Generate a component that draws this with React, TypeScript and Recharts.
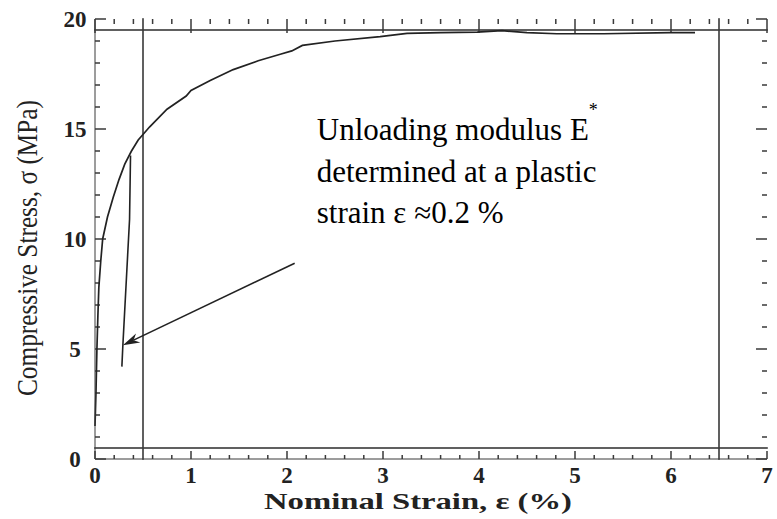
// Compressive stress-strain curve with unloading branch (ticks drawn via reference segments)
import React from 'react';
import { LineChart, Line, XAxis, YAxis, ReferenceLine, ReferenceDot } from 'recharts';

const curveStrainPct = [
  0.0, 0.01, 0.02, 0.03, 0.04, 0.06, 0.08, 0.13, 0.19, 0.25, 0.31, 0.38, 0.45,
  0.57, 0.75, 0.95, 1.0, 1.2, 1.44, 1.7, 1.93, 2.05, 2.16, 2.5, 2.97, 3.25,
  3.6, 3.98, 4.24, 4.5, 4.81, 5.3, 5.99, 6.25,
];
const curveStressMPa = [
  1.5, 3.0, 5.0, 6.5, 7.8, 9.0, 10.0, 11.0, 11.9, 12.7, 13.4, 14.0, 14.5,
  15.1, 15.9, 16.5, 16.75, 17.2, 17.7, 18.1, 18.4, 18.55, 18.8, 19.0, 19.2, 19.35,
  19.38, 19.4, 19.47, 19.38, 19.33, 19.33, 19.38, 19.38,
];

const unloadStrainPct = [0.37, 0.36, 0.29, 0.28];
const unloadStressMPa = [13.8, 10.9, 5.15, 4.2];

// arrow tail -> head
const arrowStrain = [2.08, 0.29];
const arrowStress = [8.9, 5.17];

const noteAnchor = { strain: 2.31, stress: 14.5 };
const noteLines = ['Unloading modulus E', 'determined at a plastic', 'strain ε ≈0.2 %'];

const xTickLabels = [0, 1, 2, 3, 4, 5, 6, 7];
const yTickLabels = [0, 5, 10, 15, 20];
const xMinor = Array.from({ length: 36 }, (_, i) => i / 5);
const yMinor = Array.from({ length: 21 }, (_, i) => i);

const curveData = curveStrainPct.map((x, i) => ({ x, y: curveStressMPa[i] }));
const unloadData = unloadStrainPct.map((x, i) => ({ x, y: unloadStressMPa[i] }));

const SERIF = 'Liberation Serif, Times New Roman, serif';
const FRAME = '#3a3a3a';
const INK = '#222222';

const isMajorX = (v: number) => Math.abs(v - Math.round(v)) < 1e-6;
const isMajorY = (v: number) => Math.round(v) % 5 === 0;

const renderXLabel = (p: any) => (
  <text key={`xl-${p.index}`} x={p.x} y={p.y + 24} textAnchor="middle" fontFamily={SERIF} fontWeight="bold" fontSize={23} fill={INK}>
    {p.payload.value}
  </text>
);

const renderYLabel = (p: any) => (
  <text key={`yl-${p.index}`} x={p.x - 20} y={p.y + 8} textAnchor="middle" fontFamily={SERIF} fontWeight="bold" fontSize={23} fill={INK}>
    {p.payload.value}
  </text>
);

// segment spans 0.5..19.5 MPa; stretch half a unit each way to reach the frame
const xTickShape = (major: boolean) => (p: any) => {
  const unit = Math.abs(p.y2 - p.y1) / 19;
  const bottom = Math.max(p.y1, p.y2) + unit * 0.5;
  const top = Math.min(p.y1, p.y2) - unit * 0.5;
  return (
    <g>
      <rect x={p.x1 - 0.75} y={bottom - (major ? 8 : 4)} width={1.5} height={major ? 8 : 4} fill={FRAME} />
      <rect x={p.x1 - 0.75} y={top} width={1.5} height={major ? 14 : 5} fill={FRAME} />
    </g>
  );
};

// segment spans 0.5..6.5 %
const yTickShape = (major: boolean) => (p: any) => {
  const unit = Math.abs(p.x2 - p.x1) / 6;
  const left = Math.min(p.x1, p.x2) - unit * 0.5;
  const right = Math.max(p.x1, p.x2) + unit * 0.5;
  const len = major ? 11 : 5;
  return (
    <g>
      <rect x={left} y={p.y1 - 0.75} width={len} height={1.5} fill={FRAME} />
      <rect x={right - len} y={p.y1 - 0.75} width={len} height={1.5} fill={FRAME} />
    </g>
  );
};

// frame: stretch an interior segment out to the plot edges
const frameShape = (p: any) => {
  const vertical = Math.abs(p.x2 - p.x1) < 0.5;
  if (vertical) {
    const unit = Math.abs(p.y2 - p.y1) / 19;
    const top = Math.min(p.y1, p.y2) - unit * 0.5;
    return <rect x={p.x1 - 0.8} y={top - 0.8} width={1.6} height={unit * 20 + 1.6} fill={FRAME} />;
  }
  const unit = Math.abs(p.x2 - p.x1) / 6;
  const left = Math.min(p.x1, p.x2) - unit * 0.5;
  return <rect x={left - 0.8} y={p.y1 - 0.8} width={unit * 7 + 1.6} height={1.6} fill={FRAME} />;
};

const Arrow = (props: any) => {
  const { x1, y1, x2, y2 } = props;
  const ang = Math.atan2(y2 - y1, x2 - x1);
  const len = 17;
  const half = 5;
  const bx = x2 - len * Math.cos(ang);
  const by = y2 - len * Math.sin(ang);
  const nx = x2 - len * 0.7 * Math.cos(ang);
  const ny = y2 - len * 0.7 * Math.sin(ang);
  const px = -Math.sin(ang) * half;
  const py = Math.cos(ang) * half;
  return (
    <g>
      <line x1={x1} y1={y1} x2={nx} y2={ny} stroke={INK} strokeWidth={1.6} />
      <polygon points={`${x2},${y2} ${bx + px},${by + py} ${nx},${ny} ${bx - px},${by - py}`} fill={INK} />
    </g>
  );
};

const Note = ({ cx, cy }: any) => (
  <text x={cx} y={cy} fontFamily={SERIF} fontSize={31} fill="#000">
    <tspan x={cx} y={cy}>
      {noteLines[0]}
      <tspan dy={-24} fontSize={18}>*</tspan>
    </tspan>
    <tspan x={cx} y={cy + 42}>{noteLines[1]}</tspan>
    <tspan x={cx} y={cy + 83}>{noteLines[2]}</tspan>
  </text>
);

export default function App() {
  return (
    <div style={{ position: 'absolute', left: 0, top: 0, width: 777, height: 519, background: '#fff' }}>
      <LineChart width={777} height={519} margin={{ top: 19, right: 10, bottom: 0, left: 0 }}>
        <XAxis
          type="number"
          dataKey="x"
          domain={[0, 7]}
          ticks={xTickLabels}
          interval={0}
          height={60}
          tickSize={0}
          tickMargin={0}
          tickLine={false}
          tick={renderXLabel}
          stroke={FRAME}
        />
        <YAxis
          type="number"
          domain={[0, 20]}
          ticks={yTickLabels}
          interval={0}
          width={95}
          tickSize={0}
          tickMargin={0}
          tickLine={false}
          tick={renderYLabel}
          stroke={FRAME}
        />
        <ReferenceLine segment={[{ x: 0.5, y: 19.5 }, { x: 6.5, y: 19.5 }]} shape={frameShape} />
        <ReferenceLine segment={[{ x: 6.5, y: 0.5 }, { x: 6.5, y: 19.5 }]} shape={frameShape} />
        <ReferenceLine segment={[{ x: 0.5, y: 0.5 }, { x: 6.5, y: 0.5 }]} shape={frameShape} />
        <ReferenceLine segment={[{ x: 0.5, y: 0.5 }, { x: 0.5, y: 19.5 }]} shape={frameShape} />
        {xMinor.map((v) => (
          <ReferenceLine
            key={`xt-${v}`}
            segment={[
              { x: v, y: 0.5 },
              { x: v, y: 19.5 },
            ]}
            shape={xTickShape(isMajorX(v))}
          />
        ))}
        {yMinor.map((v) => (
          <ReferenceLine
            key={`yt-${v}`}
            segment={[
              { x: 0.5, y: v },
              { x: 6.5, y: v },
            ]}
            shape={yTickShape(isMajorY(v))}
          />
        ))}
        <Line data={curveData} dataKey="y" stroke={INK} strokeWidth={1.7} dot={false} isAnimationActive={false} />
        <Line data={unloadData} dataKey="y" stroke={INK} strokeWidth={1.6} dot={false} isAnimationActive={false} />
        <ReferenceLine
          segment={[
            { x: arrowStrain[0], y: arrowStress[0] },
            { x: arrowStrain[1], y: arrowStress[1] },
          ]}
          shape={<Arrow />}
        />
        <ReferenceDot x={noteAnchor.strain} y={noteAnchor.stress} r={0} shape={<Note />} />
      </LineChart>
      <svg
        width={777}
        height={519}
        style={{ position: 'absolute', left: 0, top: 0, pointerEvents: 'none' }}
      >
        <text
          x={418}
          y={509}
          textAnchor="middle"
          fontFamily={SERIF}
          fontWeight="bold"
          fontSize={24}
          textLength={308}
          lengthAdjust="spacingAndGlyphs"
          fill={INK}
        >
          Nominal Strain, ε (%)
        </text>
        <text
          x={37}
          y={248}
          transform="rotate(-90 37 248)"
          textAnchor="middle"
          fontFamily={SERIF}
          fontSize={30}
          textLength={296}
          lengthAdjust="spacingAndGlyphs"
          fill={INK}
        >
          Compressive Stress, σ (MPa)
        </text>
      </svg>
    </div>
  );
}
